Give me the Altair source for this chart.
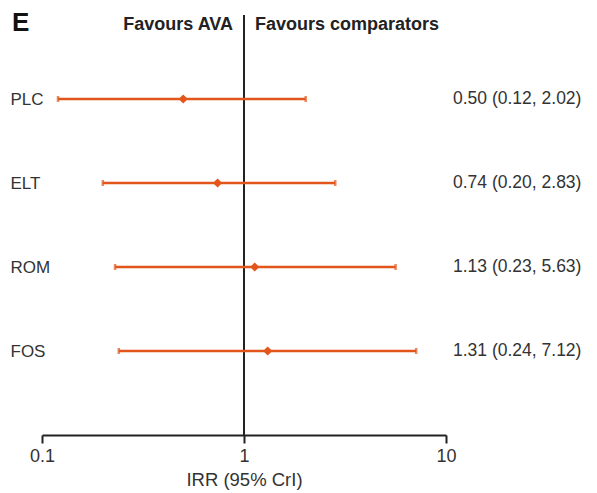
import altair as alt
import pandas as pd

treatments = ["PLC", "ELT", "ROM", "FOS"]
irr = [0.50, 0.74, 1.13, 1.31]
lower = [0.12, 0.20, 0.23, 0.24]
upper = [2.02, 2.83, 5.63, 7.12]
labels = ["0.50 (0.12, 2.02)", "0.74 (0.20, 2.83)", "1.13 (0.23, 5.63)", "1.31 (0.24, 7.12)"]

df = pd.DataFrame({"treatment": treatments, "irr": irr, "lower": lower, "upper": upper, "label": labels})

FONT = "Liberation Sans"
ORANGE = "#E2561C"

x_scale = alt.Scale(type="log", domain=[0.1, 10])
y_enc = alt.Y("treatment:N", sort=treatments, scale=alt.Scale(type="point", padding=1),
              axis=alt.Axis(title=None, domain=False, ticks=False, grid=False, labelAlign="left",
                            labelPadding=32, labelFontSize=17, labelColor="#333", labelFont=FONT))

base = alt.Chart(df)

ref = alt.Chart(pd.DataFrame({"v": [1]})).mark_rule(color="#222", strokeWidth=2).encode(
    x=alt.X("v:Q", scale=x_scale,
            axis=alt.Axis(values=[0.1, 1, 10], format="~g", title="IRR (95% CrI)", grid=False,
                          domainColor="#222", domainWidth=2, tickColor="#222", tickWidth=2,
                          tickSize=8, labelFontSize=18, labelColor="#333", labelFont=FONT,
                          labelPadding=4, titleFontSize=18.5, titleFontWeight="normal",
                          titleColor="#333", titleFont=FONT, titlePadding=5, labelFlush=False))
)

bars = base.mark_rule(color=ORANGE, strokeWidth=2.5).encode(
    x=alt.X("lower:Q", scale=x_scale), x2="upper:Q", y=y_enc)

cap_lo = base.mark_tick(color=ORANGE, thickness=2.5, size=6, orient="vertical").encode(
    x=alt.X("lower:Q", scale=x_scale), y=y_enc)
cap_hi = base.mark_tick(color=ORANGE, thickness=2.5, size=6, orient="vertical").encode(
    x=alt.X("upper:Q", scale=x_scale), y=y_enc)

pts = base.mark_point(shape="diamond", filled=True, color=ORANGE, size=85, opacity=1).encode(
    x=alt.X("irr:Q", scale=x_scale), y=y_enc)

txt = base.mark_text(align="left", baseline="middle", font=FONT, fontSize=17.5, color="#333").encode(
    x=alt.value(411), y=y_enc, text="label:N")

hdr = pd.DataFrame({"v": [1, 1], "t": ["Favours AVA", "Favours comparators"]})
h1 = alt.Chart(hdr.iloc[[0]]).mark_text(align="right", baseline="middle", dx=-11, font=FONT,
                                        fontSize=18, fontWeight="bold", color="#222").encode(
    x=alt.X("v:Q", scale=x_scale), y=alt.value(10), text="t:N")
h2 = alt.Chart(hdr.iloc[[1]]).mark_text(align="left", baseline="middle", dx=11, font=FONT,
                                        fontSize=18, fontWeight="bold", color="#222").encode(
    x=alt.X("v:Q", scale=x_scale), y=alt.value(10), text="t:N")

panel = alt.Chart(pd.DataFrame({"t": ["E"]})).mark_text(align="left", baseline="middle", font=FONT,
                                                         fontSize=26, fontWeight="bold", color="#111").encode(
    x=alt.value(-30), y=alt.value(8), text="t:N")

chart = alt.layer(ref, bars, cap_lo, cap_hi, pts, txt, h1, h2, panel).properties(
    width=404, height=420,
    background="white",
    autosize=alt.AutoSizeParams(type="none"),
    padding={"left": 34, "top": 7, "right": 143, "bottom": 56},
).configure_view(strokeWidth=0, stroke="transparent").configure_axis(grid=False)

chart.save("out.html", embed_options={"renderer": "svg", "actions": False})
